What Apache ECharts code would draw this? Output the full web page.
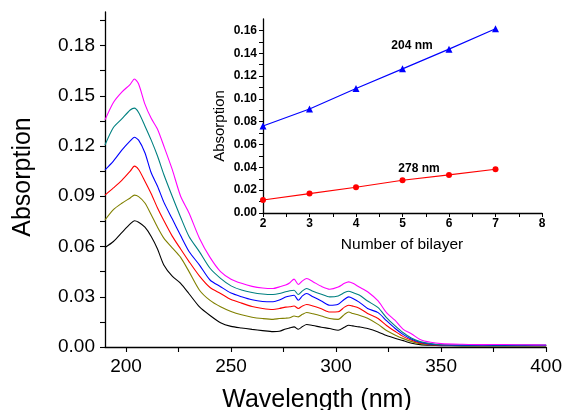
<!DOCTYPE html>
<html>
<head>
<meta charset="utf-8">
<script src="https://cdn.jsdelivr.net/npm/echarts@6/dist/echarts.min.js"></script>
<style>
html,body{margin:0;padding:0;background:#fff;}
#c{width:565px;height:410px;}
</style>
</head>
<body>
<div id="c"></div>
<script>
// ---- main spectra data ----
var wavelengths = [190,194,198,202,204,206,209,212,215,218,222,226,230,235,240,245,250,255,260,265,270,273,276,278,280,282,284,286,289,293,297,301,304,306,308,311,315,320,324,328,332,336,340,345,350,360,370,380,390,400];
var absBlack   = [0.0594,0.0630,0.0683,0.0735,0.0754,0.0745,0.0715,0.0660,0.0585,0.0490,0.0423,0.0380,0.0318,0.0239,0.0188,0.0145,0.0123,0.0113,0.0105,0.0098,0.0092,0.0094,0.0108,0.0114,0.0120,0.0106,0.0122,0.0134,0.0128,0.0118,0.0110,0.0100,0.0118,0.0130,0.0126,0.0120,0.0110,0.0090,0.0068,0.0052,0.0038,0.0022,0.0014,0.0010,0.0008,0.0007,0.0006,0.0006,0.0006,0.0006];
var absOlive   = [0.0758,0.0820,0.0858,0.0890,0.0907,0.0898,0.0860,0.0790,0.0715,0.0650,0.0592,0.0535,0.0450,0.0339,0.0278,0.0240,0.0212,0.0192,0.0178,0.0170,0.0165,0.0170,0.0172,0.0175,0.0185,0.0180,0.0195,0.0206,0.0198,0.0185,0.0170,0.0165,0.0195,0.0209,0.0200,0.0190,0.0172,0.0135,0.0098,0.0072,0.0050,0.0032,0.0020,0.0013,0.0010,0.0008,0.0008,0.0008,0.0008,0.0008];
var absRed     = [0.0907,0.0950,0.0995,0.1050,0.1080,0.1060,0.0990,0.0915,0.0830,0.0755,0.0662,0.0585,0.0510,0.0423,0.0355,0.0320,0.0283,0.0262,0.0242,0.0230,0.0224,0.0230,0.0238,0.0240,0.0245,0.0230,0.0245,0.0254,0.0245,0.0228,0.0209,0.0210,0.0238,0.0249,0.0244,0.0232,0.0200,0.0170,0.0128,0.0094,0.0062,0.0040,0.0024,0.0015,0.0011,0.0009,0.0009,0.0009,0.0009,0.0009];
var absBlue    = [0.1057,0.1110,0.1175,0.1230,0.1252,0.1235,0.1160,0.1040,0.0960,0.0865,0.0765,0.0665,0.0570,0.0489,0.0400,0.0360,0.0322,0.0300,0.0282,0.0272,0.0270,0.0280,0.0298,0.0305,0.0309,0.0279,0.0305,0.0319,0.0300,0.0275,0.0249,0.0255,0.0285,0.0299,0.0290,0.0268,0.0230,0.0205,0.0157,0.0112,0.0074,0.0046,0.0028,0.0017,0.0012,0.0010,0.0010,0.0010,0.0010,0.0010];
var absTeal    = [0.1206,0.1310,0.1362,0.1415,0.1426,0.1400,0.1320,0.1235,0.1140,0.1030,0.0900,0.0775,0.0660,0.0568,0.0470,0.0410,0.0365,0.0340,0.0325,0.0316,0.0313,0.0319,0.0330,0.0336,0.0339,0.0313,0.0335,0.0349,0.0333,0.0315,0.0299,0.0305,0.0325,0.0333,0.0325,0.0310,0.0275,0.0235,0.0176,0.0128,0.0085,0.0052,0.0032,0.0020,0.0014,0.0012,0.0012,0.0012,0.0012,0.0012];
var absMagenta = [0.1356,0.1460,0.1522,0.1568,0.1600,0.1570,0.1450,0.1365,0.1300,0.1200,0.1060,0.0900,0.0800,0.0648,0.0535,0.0450,0.0405,0.0380,0.0362,0.0352,0.0349,0.0359,0.0370,0.0384,0.0405,0.0373,0.0395,0.0409,0.0390,0.0362,0.0345,0.0358,0.0380,0.0389,0.0380,0.0358,0.0330,0.0275,0.0205,0.0160,0.0105,0.0078,0.0045,0.0028,0.0020,0.0016,0.0014,0.0015,0.0013,0.0012];

// ---- inset data ----
var bilayers = [2,3,4,5,6,7];
var abs204 = [0.0762,0.0911,0.1090,0.1263,0.1436,0.1615];
var abs278 = [0.0114,0.0170,0.0226,0.0287,0.0334,0.0384];

// ---- tick values ----
var mainXLabels = [200,250,300,350,400];
var mainXTicks = [200,225,250,275,300,325,350,375,400];
var mainYLabels = [0,0.03,0.06,0.09,0.12,0.15,0.18];
var mainYTicks = [0,0.015,0.03,0.045,0.06,0.075,0.09,0.105,0.12,0.135,0.15,0.165,0.18,0.195];
var insetYLabels = [0,0.02,0.04,0.06,0.08,0.10,0.12,0.14,0.16];
var insetYTicks = [0,0.01,0.02,0.03,0.04,0.05,0.06,0.07,0.08,0.09,0.10,0.11,0.12,0.13,0.14,0.15,0.16];
var insetXLabels = [2,3,4,5,6,7,8];
var insetXTicks = [2,2.5,3,3.5,4,4.5,5,5.5,6,6.5,7,7.5,8];

var FONT = 'Liberation Sans, Arial, sans-serif';
function pairs(xs, ys){ return xs.map(function(x,i){ return [x, ys[i]]; }); }
function spec(ys, color){
  return { type:'line', xAxisIndex:0, yAxisIndex:0, data:pairs(wavelengths, ys), showSymbol:false, smooth:0.25,
    lineStyle:{color:color, width:1.1}, itemStyle:{color:color}, silent:true, animation:false };
}
var axisLine = {show:true, onZero:false, lineStyle:{color:'#000', width:1.3}};

var chart = echarts.init(document.getElementById('c'), null, {renderer:'canvas'});
chart.setOption({
  backgroundColor:'#fff',
  animation:false,
  grid:[
    {left:105, right:17, top:12, bottom:63, containLabel:false},
    {left:263, right:23, top:19, bottom:197, containLabel:false}
  ],
  xAxis:[
    {type:'value', gridIndex:0, min:190, max:400, axisLine:axisLine,
     axisTick:{show:true, inside:false, length:5, customValues:mainXTicks, lineStyle:{color:'#000', width:1.1}},
     axisLabel:{show:true, customValues:mainXLabels, margin:10, color:'#000', fontSize:19, fontFamily:FONT},
     splitLine:{show:false}},
    {type:'value', gridIndex:1, min:2, max:8, axisLine:axisLine,
     axisTick:{show:true, length:4, customValues:insetXTicks, lineStyle:{color:'#000', width:1}},
     axisLabel:{show:true, customValues:insetXLabels, margin:5, color:'#000', fontSize:12, fontWeight:'bold', fontFamily:FONT},
     splitLine:{show:false}}
  ],
  yAxis:[
    {type:'value', gridIndex:0, min:0, max:0.2, axisLine:axisLine,
     axisTick:{show:true, length:5, customValues:mainYTicks, lineStyle:{color:'#000', width:1.1}},
     axisLabel:{show:true, customValues:mainYLabels, margin:10, color:'#000', fontSize:19, fontFamily:FONT,
       formatter:function(v){ return v.toFixed(2); }},
     splitLine:{show:false}},
    {type:'value', gridIndex:1, min:0, max:0.17, axisLine:axisLine,
     axisTick:{show:true, length:4, customValues:insetYTicks, lineStyle:{color:'#000', width:1}},
     axisLabel:{show:true, customValues:insetYLabels, margin:6, color:'#000', fontSize:12, fontWeight:'bold', fontFamily:FONT,
       formatter:function(v){ return v.toFixed(2); }},
     splitLine:{show:false}}
  ],
  series:[
    spec(absBlack,'#000000'),
    spec(absOlive,'#808000'),
    spec(absRed,'#ff0000'),
    spec(absBlue,'#0000ff'),
    spec(absTeal,'#008080'),
    spec(absMagenta,'#ff00ff'),
    {type:'line', xAxisIndex:1, yAxisIndex:1, data:pairs(bilayers, abs204), symbol:'triangle', symbolSize:7,
     lineStyle:{color:'#0000ff', width:1.1}, itemStyle:{color:'#0000ff'}},
    {type:'line', xAxisIndex:1, yAxisIndex:1, data:pairs(bilayers, abs278), symbol:'circle', symbolSize:6,
     lineStyle:{color:'#ff0000', width:1.1}, itemStyle:{color:'#ff0000'}}
  ],
  graphic:[
    {type:'text', x:23, y:177, rotation:Math.PI/2, style:{text:'Absorption', align:'center', verticalAlign:'middle', fill:'#000', font:'25px ' + FONT}},
    {type:'text', x:317, y:400, style:{text:'Wavelength (nm)', align:'center', verticalAlign:'middle', fill:'#000', font:'25px ' + FONT}},
    {type:'text', x:220, y:126, rotation:Math.PI/2, style:{text:'Absorption', align:'center', verticalAlign:'middle', fill:'#000', font:'15px ' + FONT}},
    {type:'text', x:402, y:245, style:{text:'Number of bilayer', align:'center', verticalAlign:'middle', fill:'#000', font:'15.5px ' + FONT}},
    {type:'text', x:412, y:46, style:{text:'204 nm', align:'center', verticalAlign:'middle', fill:'#000', font:'bold 12px ' + FONT}},
    {type:'text', x:419, y:169, style:{text:'278 nm', align:'center', verticalAlign:'middle', fill:'#000', font:'bold 12px ' + FONT}}
  ]
});
</script>
</body>
</html>
